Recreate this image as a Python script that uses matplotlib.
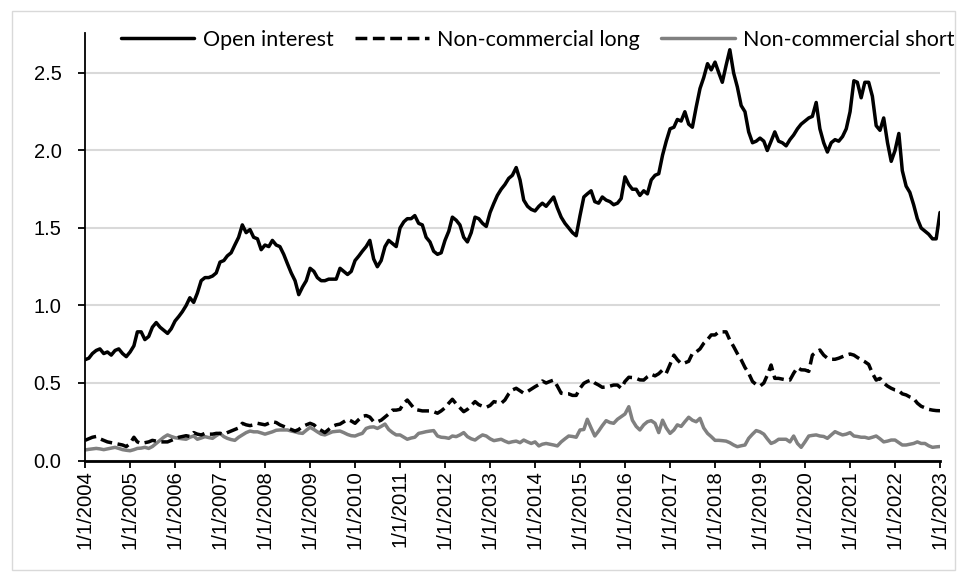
import numpy as np
import pandas as pd
import matplotlib
matplotlib.use("Agg")
import matplotlib.pyplot as plt
from matplotlib.patches import Rectangle

# ---- data (monthly, Jan 2004 .. Jan 2023) ----
open_interest = [
    0.65, 0.66, 0.69, 0.71, 0.72, 0.69, 0.70, 0.68, 0.71, 0.72, 0.69, 0.67,   # 2004
    0.70, 0.74, 0.83, 0.83, 0.78, 0.80, 0.86, 0.89, 0.86, 0.84, 0.82, 0.85,   # 2005
    0.90, 0.93, 0.96, 1.00, 1.05, 1.02, 1.08, 1.16, 1.18, 1.18, 1.19, 1.21,   # 2006
    1.28, 1.29, 1.32, 1.34, 1.39, 1.44, 1.52, 1.47, 1.49, 1.44, 1.43, 1.36,   # 2007
    1.39, 1.38, 1.42, 1.39, 1.38, 1.33, 1.27, 1.21, 1.16, 1.07, 1.12, 1.16,   # 2008
    1.24, 1.22, 1.18, 1.16, 1.16, 1.17, 1.17, 1.17, 1.24, 1.22, 1.20, 1.22,   # 2009
    1.29, 1.32, 1.35, 1.38, 1.42, 1.30, 1.25, 1.29, 1.38, 1.42, 1.40, 1.38,   # 2010
    1.50, 1.54, 1.56, 1.56, 1.58, 1.53, 1.52, 1.44, 1.41, 1.35, 1.33, 1.34,   # 2011
    1.42, 1.48, 1.57, 1.55, 1.52, 1.44, 1.41, 1.47, 1.57, 1.56, 1.53, 1.51,   # 2012
    1.60, 1.66, 1.71, 1.75, 1.78, 1.82, 1.84, 1.89, 1.81, 1.68, 1.64, 1.62,   # 2013
    1.61, 1.64, 1.66, 1.64, 1.67, 1.70, 1.63, 1.57, 1.53, 1.50, 1.47, 1.45,   # 2014
    1.58, 1.70, 1.72, 1.74, 1.67, 1.66, 1.70, 1.68, 1.67, 1.65, 1.66, 1.69,   # 2015
    1.83, 1.78, 1.75, 1.75, 1.71, 1.74, 1.72, 1.81, 1.84, 1.85, 1.97, 2.06,   # 2016
    2.14, 2.15, 2.20, 2.19, 2.25, 2.17, 2.15, 2.28, 2.40, 2.47, 2.56, 2.52,   # 2017
    2.57, 2.50, 2.44, 2.55, 2.65, 2.50, 2.41, 2.29, 2.25, 2.12, 2.05, 2.06,   # 2018
    2.08, 2.06, 2.00, 2.06, 2.12, 2.06, 2.05, 2.03, 2.07, 2.10, 2.14, 2.17,   # 2019
    2.19, 2.21, 2.22, 2.31, 2.14, 2.05, 1.99, 2.05, 2.07, 2.06, 2.09, 2.14,   # 2020
    2.25, 2.45, 2.44, 2.34, 2.44, 2.44, 2.35, 2.16, 2.13, 2.21, 2.05, 1.93,   # 2021
    2.00, 2.11, 1.87, 1.77, 1.73, 1.65, 1.56, 1.50, 1.48, 1.46, 1.43, 1.43,   # 2022
    1.60,                                                                     # 2023
]

noncomm_long = [
    0.13, 0.14, 0.15, 0.155, 0.14, 0.13, 0.12, 0.115, 0.11, 0.105, 0.10, 0.09,
    0.11, 0.15, 0.12, 0.11, 0.115, 0.12, 0.13, 0.125, 0.12, 0.12, 0.12, 0.13,
    0.14, 0.15, 0.155, 0.16, 0.155, 0.18, 0.17, 0.165, 0.175, 0.17, 0.17, 0.175,
    0.175, 0.17, 0.18, 0.19, 0.20, 0.21, 0.24, 0.23, 0.225, 0.23, 0.24, 0.235,
    0.23, 0.24, 0.25, 0.245, 0.23, 0.22, 0.21, 0.20, 0.19, 0.20, 0.22, 0.23,
    0.24, 0.23, 0.21, 0.195, 0.18, 0.20, 0.22, 0.23, 0.235, 0.25, 0.265, 0.255,
    0.24, 0.265, 0.285, 0.29, 0.28, 0.25, 0.25, 0.26, 0.28, 0.30, 0.325, 0.325,
    0.33, 0.37, 0.39, 0.36, 0.33, 0.325, 0.32, 0.32, 0.32, 0.315, 0.305, 0.32,
    0.34, 0.37, 0.395, 0.365, 0.34, 0.315, 0.33, 0.355, 0.38, 0.36, 0.35, 0.343,
    0.355, 0.38, 0.375, 0.369, 0.39, 0.43, 0.455, 0.466, 0.45, 0.434, 0.445, 0.46,
    0.476, 0.49, 0.513, 0.50, 0.51, 0.519, 0.48, 0.434, 0.43, 0.43, 0.42, 0.42,
    0.466, 0.498, 0.51, 0.519, 0.50, 0.487, 0.472, 0.475, 0.48, 0.487, 0.487, 0.466,
    0.51, 0.537, 0.535, 0.53, 0.52, 0.519, 0.54, 0.556, 0.546, 0.56, 0.584, 0.563,
    0.62, 0.68, 0.65, 0.625, 0.63, 0.64, 0.69, 0.70, 0.72, 0.756, 0.78, 0.81,
    0.81, 0.83, 0.83, 0.83, 0.777, 0.735, 0.69, 0.65, 0.60, 0.563, 0.51, 0.49,
    0.48, 0.50, 0.55, 0.616, 0.53, 0.53, 0.525, 0.52, 0.519, 0.563, 0.60, 0.585,
    0.584, 0.575, 0.68, 0.70, 0.713, 0.68, 0.66, 0.653, 0.653, 0.66, 0.67, 0.68,
    0.687, 0.68, 0.665, 0.65, 0.637, 0.62, 0.563, 0.519, 0.53, 0.50, 0.48, 0.466,
    0.455, 0.45, 0.43, 0.423, 0.41, 0.40, 0.37, 0.35, 0.34, 0.33, 0.325, 0.322,
    0.321,
]

noncomm_short = [
    0.068, 0.072, 0.075, 0.078, 0.075, 0.07, 0.075, 0.08, 0.085, 0.078, 0.07, 0.066,
    0.063, 0.07, 0.078, 0.08, 0.085, 0.078, 0.09, 0.11, 0.13, 0.15, 0.165, 0.155,
    0.147, 0.143, 0.14, 0.137, 0.15, 0.158, 0.137, 0.145, 0.154, 0.148, 0.143, 0.16,
    0.175, 0.154, 0.143, 0.135, 0.13, 0.15, 0.165, 0.18, 0.19, 0.185, 0.185, 0.178,
    0.17, 0.178, 0.185, 0.195, 0.197, 0.197, 0.197, 0.19, 0.185, 0.178, 0.175, 0.195,
    0.214, 0.20, 0.185, 0.17, 0.165, 0.175, 0.185, 0.188, 0.19, 0.18, 0.168, 0.16,
    0.158, 0.168, 0.175, 0.207, 0.215, 0.217, 0.207, 0.22, 0.235, 0.20, 0.18, 0.165,
    0.165, 0.15, 0.137, 0.145, 0.15, 0.175, 0.18, 0.186, 0.19, 0.193, 0.158, 0.15,
    0.148, 0.143, 0.158, 0.154, 0.165, 0.18, 0.154, 0.14, 0.132, 0.15, 0.165, 0.158,
    0.14, 0.128, 0.132, 0.137, 0.125, 0.115, 0.121, 0.125, 0.115, 0.132, 0.12, 0.11,
    0.12, 0.094, 0.105, 0.11, 0.105, 0.10, 0.094, 0.12, 0.14, 0.158, 0.155, 0.15,
    0.197, 0.20, 0.266, 0.21, 0.158, 0.19, 0.225, 0.257, 0.245, 0.24, 0.266, 0.283,
    0.30, 0.347, 0.26, 0.22, 0.197, 0.23, 0.25, 0.257, 0.24, 0.18, 0.26, 0.21,
    0.175, 0.197, 0.23, 0.22, 0.25, 0.279, 0.26, 0.25, 0.272, 0.21, 0.175, 0.154,
    0.13, 0.13, 0.128, 0.125, 0.115, 0.10, 0.089, 0.095, 0.10, 0.143, 0.17, 0.193,
    0.185, 0.17, 0.14, 0.11, 0.12, 0.137, 0.137, 0.137, 0.12, 0.158, 0.11, 0.085,
    0.12, 0.158, 0.162, 0.165, 0.158, 0.155, 0.143, 0.165, 0.186, 0.175, 0.165, 0.17,
    0.18, 0.158, 0.155, 0.15, 0.15, 0.143, 0.15, 0.158, 0.14, 0.12, 0.125, 0.132,
    0.132, 0.115, 0.10, 0.10, 0.105, 0.11, 0.12, 0.11, 0.11, 0.095, 0.085, 0.088,
    0.09,
]

series_names = ["Open interest", "Non-commercial long", "Non-commercial short"]
tick_years = list(range(2004, 2024))
tick_labels = [f"1/1/{y}" for y in tick_years]
y_ticks = [0.0, 0.5, 1.0, 1.5, 2.0, 2.5]

dates = pd.date_range("2004-01-01", periods=len(open_interest), freq="MS")

# ---- figure ----
W, H = 967, 579
fig = plt.figure(figsize=(W / 100, H / 100), dpi=100)
fig.patch.set_facecolor("white")

# outer chart border
fig.patches.append(Rectangle((12 / W, 1 - 570 / H), (955 - 12) / W, (570 - 11) / H,
                             transform=fig.transFigure, fill=False,
                             edgecolor="#d9d9d9", linewidth=1.0))

ax = fig.add_axes([85 / W, 1 - 460.5 / H, (940 - 85) / W, (460.5 - 33) / H])

ax.plot(dates, open_interest, color="black", lw=2.5, solid_capstyle="round",
        solid_joinstyle="round", label=series_names[0], zorder=3)
ax.plot(dates, noncomm_long, color="black", lw=2.5, linestyle=(0, (3.4, 1.6)),
        dash_capstyle="butt", label=series_names[1], zorder=3)
ax.plot(dates, noncomm_short, color="#808080", lw=2.5, solid_capstyle="round",
        solid_joinstyle="round", label=series_names[2], zorder=2)

ax.set_ylim(0, 2.758)
ax.set_xlim(pd.Timestamp("2004-01-01"), pd.Timestamp("2023-01-01"))

ax.set_yticks(y_ticks)
ax.set_yticklabels([f"{v:.1f}" for v in y_ticks], fontsize=14.5,
                   fontfamily="Liberation Sans")
ax.set_xticks([pd.Timestamp(f"{y}-01-01") for y in tick_years])
ax.set_xticklabels(tick_labels, rotation=90, fontsize=14.6,
                   fontfamily="Liberation Sans")

ax.grid(axis="y", color="#d9d9d9", lw=1.5, zorder=0)
ax.set_axisbelow(True)
for s in ["top", "right"]:
    ax.spines[s].set_visible(False)
ax.spines["left"].set_linewidth(1.3)
ax.spines["bottom"].set_linewidth(2.0)
ax.tick_params(axis="both", direction="out", length=5, width=1.3, colors="black")
ax.tick_params(axis="x", pad=2)
ax.tick_params(axis="y", pad=12)

fig.legend(loc="center", bbox_to_anchor=(538 / W, 1 - 40 / H), ncol=3, frameon=False,
           prop={"family": "Lato", "size": 15.5}, handlelength=3.4,
           handletextpad=0.4, columnspacing=1.0, borderaxespad=0)

fig.savefig("out.png", dpi=100, facecolor="white")
